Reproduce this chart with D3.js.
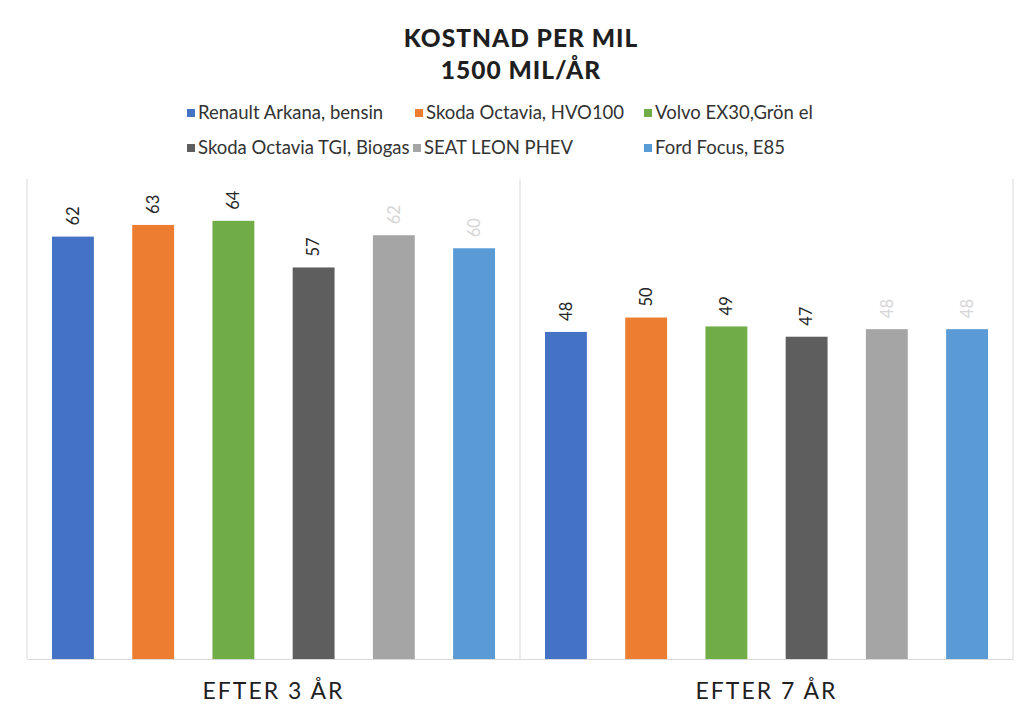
<!DOCTYPE html>
<html>
<head>
<meta charset="utf-8">
<script src="https://cdn.jsdelivr.net/npm/d3@7"></script>
<style>
  html, body { margin: 0; padding: 0; background: #ffffff; }
  svg { display: block; }
  text { font-family: Lato, "Open Sans", sans-serif; }
</style>
</head>
<body>
<svg id="chart" width="1021" height="716"></svg>
<script>
// ---- DATA ----
const titleLines = ["KOSTNAD PER MIL", "1500 MIL/ÅR"];
const groups = ["EFTER 3 ÅR", "EFTER 7 ÅR"];
const seriesNames = [
  "Renault Arkana, bensin",
  "Skoda Octavia, HVO100",
  "Volvo EX30,Grön el",
  "Skoda Octavia TGI, Biogas",
  "SEAT LEON PHEV",
  "Ford Focus, E85"
];
const after3 = [61.6, 63.3, 63.9, 57.1, 61.8, 59.9];
const after7 = [47.7, 49.8, 48.5, 47.0, 48.1, 48.1];
const seriesColors = ["#4472C4", "#ED7D31", "#70AD47", "#5E5E5E", "#A5A5A5", "#5B9BD5"];
const fadedLabel = [false, false, false, false, true, true];

const values = [after3, after7];

// ---- LAYOUT ----
const svg = d3.select("#chart");
const plot = { left: 27, right: 1013, top: 179, bottom: 659 };

const x0 = d3.scaleBand().domain(groups).range([plot.left, plot.right]).padding(0);
const groupW = x0.bandwidth();
const x1 = d3.scaleBand().domain(seriesNames).range([25, groupW - 25]).paddingInner(0.478).paddingOuter(0);
const y = d3.scaleLinear().domain([0, 70]).range([plot.bottom, plot.top]);
const fmt = d3.format(".0f");

// title
svg.append("g").selectAll("text").data(titleLines).join("text")
  .attr("x", 521).attr("y", (d, i) => 47 + i * 32)
  .attr("text-anchor", "middle")
  .style("font-size", "24.5px").style("font-weight", "900")
  .style("fill", "#1f1f1f").style("letter-spacing", "1px")
  .text(d => d);

// legend
const legendPos = [
  [187, 113], [415, 113], [644, 113],
  [187, 148], [413, 148], [644, 148]
];
const lg = svg.append("g").selectAll("g").data(seriesNames).join("g")
  .attr("transform", (d, i) => `translate(${legendPos[i][0]},${legendPos[i][1]})`);
lg.append("rect").attr("x", 0).attr("y", -4).attr("width", 8).attr("height", 8)
  .attr("fill", (d, i) => seriesColors[i]);
lg.append("text").attr("x", 11).attr("y", 0).attr("dy", "0.35em")
  .style("font-size", "18.5px").style("fill", "#333333")
  .text(d => d);

// gridlines / separators
const seps = [plot.left, x0(groups[1]), plot.right];
svg.append("g").selectAll("line").data(seps).join("line")
  .attr("x1", d => d).attr("x2", d => d)
  .attr("y1", plot.top).attr("y2", plot.bottom)
  .attr("stroke", "#d9d9d9").attr("stroke-width", 1);

// bars
const gGroups = svg.append("g").selectAll("g").data(groups).join("g")
  .attr("transform", d => `translate(${x0(d)},0)`);

gGroups.selectAll("rect")
  .data((g, gi) => seriesNames.map((s, si) => ({ s, si, v: values[gi][si] })))
  .join("rect")
  .attr("x", d => x1(d.s))
  .attr("y", d => y(d.v))
  .attr("width", x1.bandwidth())
  .attr("height", d => y(0) - y(d.v))
  .attr("fill", d => seriesColors[d.si]);

gGroups.selectAll("text.lbl")
  .data((g, gi) => seriesNames.map((s, si) => ({ s, si, v: values[gi][si] })))
  .join("text")
  .attr("class", "lbl")
  .attr("transform", d => `translate(${x1(d.s) + x1.bandwidth() / 2},${y(d.v) - 11}) rotate(-90)`)
  .attr("text-anchor", "start")
  .attr("dy", "0.35em")
  .style("font-size", "16.5px")
  .style("fill", d => fadedLabel[d.si] ? "#d6d6d6" : "#262626")
  .text(d => fmt(d.v));

// baseline axis
const xAxis = d3.axisBottom(x0).tickSize(0).tickPadding(24);
const axG = svg.append("g").attr("transform", `translate(0,${plot.bottom})`).call(xAxis);
axG.select(".domain").attr("stroke", "#d9d9d9");
axG.selectAll("text")
  .style("font-family", "Lato, 'Open Sans', sans-serif")
  .style("font-size", "23px").style("fill", "#1f1f1f")
  .style("letter-spacing", "2px");
</script>
</body>
</html>
